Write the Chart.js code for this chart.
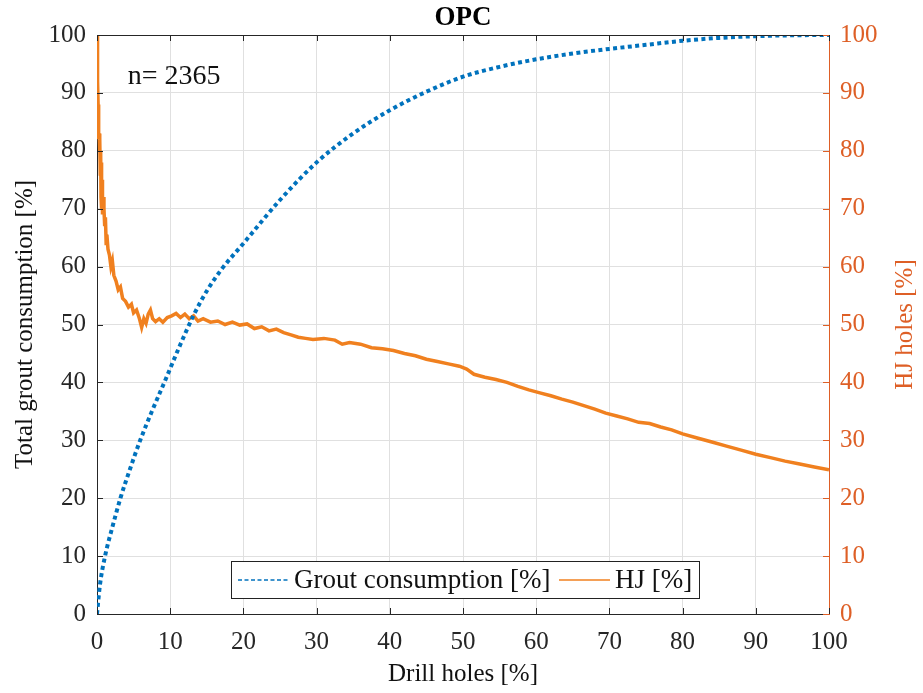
<!DOCTYPE html>
<html>
<head>
<meta charset="utf-8">
<script src="https://cdn.jsdelivr.net/npm/chart.js@4/dist/chart.umd.min.js"></script>
<style>
  html, body { margin: 0; padding: 0; background: #fff; }
  #wrap { width: 923px; height: 693px; }
</style>
</head>
<body>
<div id="wrap"><canvas id="myChart" width="923" height="693"></canvas></div>
<script>
// grout consumption curve (x = drill holes %, y = total grout %)
const groutX = [0, 0.4, 1.1, 2.1, 3.2, 4.5, 5.9, 7.5, 9.3, 11.2, 13.2, 15, 17, 20, 25, 30, 35, 40, 45, 50, 55, 60, 65, 70, 75, 80, 85, 90, 95, 100];
const groutY = [0, 5, 10, 15, 20, 25, 30, 35, 40.3, 46, 51.6, 55.8, 59.5, 64, 71.5, 78, 83, 87, 90.2, 92.8, 94.5, 95.8, 96.8, 97.6, 98.3, 99, 99.5, 99.8, 99.95, 100];

// HJ holes curve
const hjX = [0, 0.05, 0.1, 0.15, 0.2, 0.25, 0.3, 0.35, 0.4, 0.45, 0.5, 0.55, 0.6, 0.65, 0.7, 0.75, 0.85, 0.95, 1.05, 1.15, 1.25, 1.35, 1.5, 1.7, 1.9, 2.1, 2.3, 2.6, 2.9, 3.2, 3.5, 3.9, 4.3, 4.7, 5.0, 5.4, 5.8, 6.1, 6.4, 6.7, 7.0, 7.3, 7.6, 8.0, 8.5, 9.0, 9.6, 10.2, 10.8, 11.4, 12.0, 12.6, 13.2, 13.8, 14.5, 15.5, 16.5, 17.5, 18.5, 19.5, 20.5, 21.5, 22.5, 23.5, 24.5, 25.5, 26.5, 27.5, 28.5, 29.5, 31, 32.5, 33.5, 34.5, 36, 37.5, 39, 40.5, 42, 43.5, 45, 46.5, 48, 49.5, 50.5, 51.5, 53, 54.5, 56, 57.5, 59, 60.5, 62, 63.5, 65, 66.5, 68, 69.5, 71, 72.5, 74, 75.5, 77, 78.5, 80, 82, 84, 86, 88, 90, 92, 94, 96, 98, 100];
const hjY = [100, 97, 92, 88, 85, 82, 83, 80, 82, 76, 80, 72, 78, 70, 75, 69, 72, 70, 67, 68.5, 64, 65.5, 63, 62, 60, 61, 58.5, 57.5, 56, 56.5, 54.5, 54, 53, 53.5, 52, 52.5, 51, 49.5, 51, 50.2, 51.8, 52.5, 51, 50.5, 51, 50.4, 51.2, 51.5, 51.9, 51.2, 51.8, 51, 51.5, 50.6, 51, 50.4, 50.6, 50, 50.4, 49.9, 50.1, 49.3, 49.6, 48.9, 49.2, 48.6, 48.2, 47.8, 47.6, 47.4, 47.6, 47.3, 46.6, 46.9, 46.6, 46, 45.8, 45.5, 45, 44.6, 44, 43.6, 43.2, 42.8, 42.3, 41.4, 40.9, 40.5, 40, 39.3, 38.7, 38.2, 37.7, 37.1, 36.6, 36, 35.4, 34.7, 34.2, 33.7, 33.1, 32.9, 32.3, 31.8, 31.1, 30.4, 29.7, 29, 28.3, 27.6, 27, 26.4, 25.9, 25.4, 24.9];

const seriesNames = ["Grout consumption [%]", "HJ [%]"];
const tickStep = 10;
const sampleText = "n= 2365";

const blue = "#0072BD";
const orange = "#F0801F";
const axisOrange = "#DE5F26";
const dark = "#262626";
const serif = "Liberation Serif";

const toPoints = (xs, ys) => xs.map((x, i) => ({ x: x, y: ys[i] }));

// extra drawing: top box line, inward ticks, title, text, legend, right title
const extrasPlugin = {
  id: "extras",
  afterDraw(chart) {
    const ctx = chart.ctx;
    const a = chart.chartArea;
    const xs = chart.scales.x;
    const ys = chart.scales.y;
    const tl = 6;
    ctx.save();
    // top border
    ctx.strokeStyle = dark;
    ctx.lineWidth = 1;
    ctx.beginPath();
    ctx.moveTo(a.left, a.top + 0.5);
    ctx.lineTo(a.right, a.top + 0.5);
    ctx.stroke();
    // inward ticks
    ctx.beginPath();
    xs.ticks.forEach((t) => {
      const px = Math.round(xs.getPixelForValue(t.value)) + 0.5;
      ctx.moveTo(px, a.bottom);
      ctx.lineTo(px, a.bottom - tl);
      ctx.moveTo(px, a.top);
      ctx.lineTo(px, a.top + tl);
    });
    ys.ticks.forEach((t) => {
      const py = Math.round(ys.getPixelForValue(t.value)) + 0.5;
      ctx.moveTo(a.left, py);
      ctx.lineTo(a.left + tl, py);
    });
    ctx.stroke();
    ctx.strokeStyle = axisOrange;
    ctx.beginPath();
    chart.scales.y1.ticks.forEach((t) => {
      const py = Math.round(chart.scales.y1.getPixelForValue(t.value)) + 0.5;
      ctx.moveTo(a.right, py);
      ctx.lineTo(a.right - tl, py);
    });
    ctx.stroke();

    // title
    ctx.fillStyle = "#000";
    ctx.font = "bold 27px " + serif;
    ctx.textAlign = "center";
    ctx.textBaseline = "middle";
    ctx.fillText("OPC", (a.left + a.right) / 2, 18);

    // n= text
    ctx.font = "28px " + serif;
    ctx.textAlign = "left";
    ctx.fillStyle = "#111";
    ctx.fillText(sampleText, xs.getPixelForValue(4.2), ys.getPixelForValue(92.8));

    // right axis title (reads bottom to top)
    ctx.save();
    ctx.translate(905, (a.top + a.bottom) / 2);
    ctx.rotate(-Math.PI / 2);
    ctx.fillStyle = axisOrange;
    ctx.font = "25px " + serif;
    ctx.textAlign = "center";
    ctx.fillText("HJ holes [%]", 0, 0);
    ctx.restore();

    // legend box
    const bx = 231, by = 561, bw = 468, bh = 37;
    ctx.fillStyle = "#fff";
    ctx.fillRect(bx, by, bw, bh);
    ctx.strokeStyle = "#222";
    ctx.lineWidth = 1;
    ctx.strokeRect(bx + 0.5, by + 0.5, bw, bh);
    const cy = by + bh / 2 + 0.5;
    ctx.font = "27px " + serif;
    ctx.textAlign = "left";
    ctx.fillStyle = "#111";
    ctx.lineWidth = 1.5;
    ctx.strokeStyle = blue;
    ctx.setLineDash([4, 2.5]);
    ctx.beginPath();
    ctx.moveTo(238, cy);
    ctx.lineTo(289, cy);
    ctx.stroke();
    ctx.setLineDash([]);
    ctx.fillText(chart.data.datasets[0].label, 294, cy + 1);
    ctx.strokeStyle = orange;
    ctx.beginPath();
    ctx.moveTo(559, cy);
    ctx.lineTo(610, cy);
    ctx.stroke();
    ctx.fillText(chart.data.datasets[1].label, 615, cy + 1);
    ctx.restore();
  }
};

const ctx = document.getElementById("myChart").getContext("2d");
const myChart = new Chart(ctx, {
  type: "line",
  data: {
    datasets: [
      {
        label: seriesNames[0],
        data: toPoints(groutX, groutY),
        yAxisID: "y",
        borderColor: blue,
        borderWidth: 4,
        borderDash: [4, 3.4],
        borderCapStyle: "butt",
        cubicInterpolationMode: "monotone",
        pointRadius: 0,
        fill: false,
      },
      {
        label: seriesNames[1],
        data: toPoints(hjX, hjY),
        yAxisID: "y1",
        borderColor: orange,
        borderWidth: 3.5,
        pointRadius: 0,
        tension: 0,
        fill: false,
      },
    ],
  },
  options: {
    responsive: false,
    animation: false,
    layout: { padding: { top: 35, left: 0, right: 0, bottom: 0 } },
    plugins: {
      legend: { display: false },
      title: { display: false },
      tooltip: { enabled: false },
    },
    scales: {
      x: {
        type: "linear",
        min: 0,
        max: 100,
        ticks: { stepSize: tickStep, color: dark, padding: 13, font: { family: serif, size: 25 } },
        grid: { color: "#e0e0e0", drawTicks: false },
        border: { color: dark, width: 1 },
        title: { display: true, text: "Drill holes [%]", color: "#111", font: { family: serif, size: 25 }, padding: { top: 0, bottom: 4 } },
        afterFit: (scale) => { scale.height = 79; },
      },
      y: {
        position: "left",
        min: 0,
        max: 100,
        ticks: { stepSize: tickStep, color: dark, padding: 11, font: { family: serif, size: 25 } },
        grid: { color: "#e0e0e0", drawTicks: false },
        border: { color: dark, width: 1 },
        title: { display: true, text: "Total grout consumption [%]", color: "#111", font: { family: serif, size: 25 }, padding: { top: 10, bottom: 0 } },
        afterFit: (scale) => { scale.width = 97; },
      },
      y1: {
        position: "right",
        min: 0,
        max: 100,
        ticks: { stepSize: tickStep, color: axisOrange, padding: 11, font: { family: serif, size: 25 } },
        grid: { drawOnChartArea: false, drawTicks: false },
        border: { color: axisOrange, width: 1 },
        afterFit: (scale) => { scale.width = 94; },
      },
    },
  },
  plugins: [extrasPlugin],
});
</script>
</body>
</html>
